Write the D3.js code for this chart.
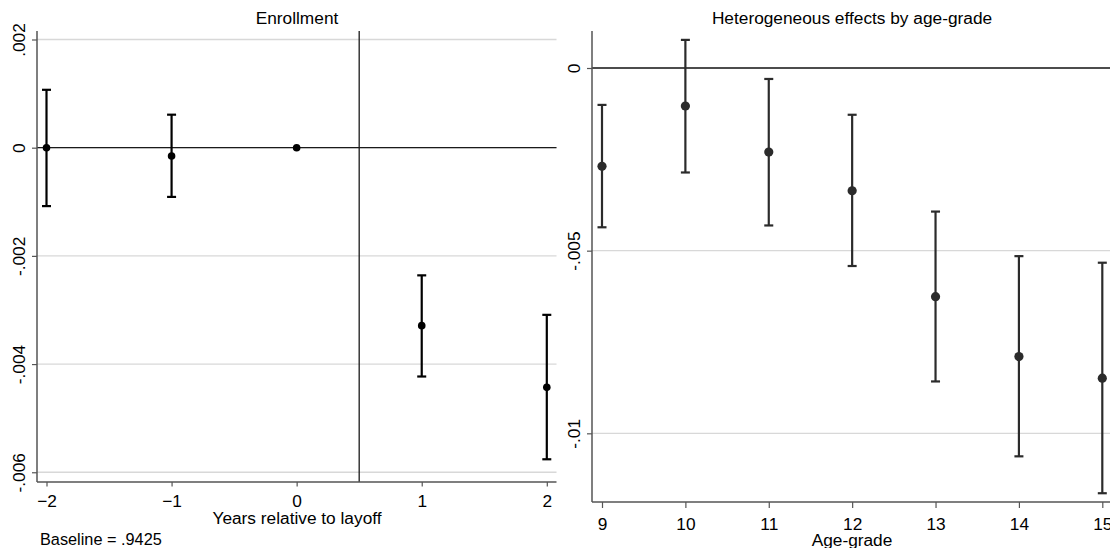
<!DOCTYPE html>
<html>
<head>
<meta charset="utf-8">
<script src="https://cdn.jsdelivr.net/npm/d3@7"></script>
<style>
  html, body { margin: 0; padding: 0; background: #fff; }
  svg text { font-family: "Liberation Sans", Arial, sans-serif; fill: #000; }
</style>
</head>
<body>
<svg id="chart" width="1110" height="548"></svg>
<script>
// left panel: event study on enrollment
const yearsRel = [-2, -1, 0, 1, 2];
const enrollCoef = [0, -0.000155, 0, -0.00329, -0.00443];
const enrollLo = [-0.00108, -0.00091, null, -0.00423, -0.00576];
const enrollHi = [0.00107, 0.00061, null, -0.00236, -0.00309];
const enrollYTicks = [0.002, 0, -0.002, -0.004, -0.006];
const enrollYLabels = [".002", "0", "-.002", "-.004", "-.006"];

// right panel: effects by age-grade
const ageGrades = [9, 10, 11, 12, 13, 14, 15];
const ageCoef = [-0.00269, -0.00104, -0.0023, -0.00336, -0.00626, -0.0079, -0.00849];
const ageLo = [-0.00436, -0.00286, -0.00431, -0.00542, -0.00858, -0.01063, -0.01164];
const ageHi = [-0.00101, 0.00077, -0.0003, -0.00128, -0.00393, -0.00515, -0.00533];
const ageYTicks = [0, -0.005, -0.01];
const ageYLabels = ["0", "-.005", "-.01"];

const svg = d3.select("#chart");

function drawPanel(p) {
  const g = svg.append("g");
  const x = d3.scaleLinear().domain(p.xDomain).range(p.xRange);
  const y = d3.scaleLinear().domain(p.yDomain).range([p.bottom, p.top]);

  // gridlines
  g.selectAll(".grid").data(p.yTicks).join("line")
    .attr("x1", p.left).attr("x2", p.right)
    .attr("y1", d => y(d)).attr("y2", d => y(d))
    .attr("stroke", "#d8d8d8").attr("stroke-width", 1.3);

  // zero line and optional vertical reference line
  g.append("line")
    .attr("x1", p.left).attr("x2", p.right)
    .attr("y1", y(0)).attr("y2", y(0))
    .attr("stroke", "#1a1a1a").attr("stroke-width", 1.3);
  if (p.xLine != null) {
    g.append("line")
      .attr("x1", x(p.xLine)).attr("x2", x(p.xLine))
      .attr("y1", p.top).attr("y2", p.bottom)
      .attr("stroke", "#1a1a1a").attr("stroke-width", 1.3);
  }

  // axes
  const yAxis = d3.axisLeft(y).tickValues(p.yTicks).tickFormat((d, i) => p.yLabels[i])
    .tickSize(5);
  const ya = g.append("g").attr("transform", `translate(${p.left},0)`).call(yAxis);
  ya.select(".domain").attr("d", `M0,${p.top}V${p.bottom}`);
  ya.selectAll(".tick text")
    .attr("x", null).attr("dy", null)
    .attr("text-anchor", "middle")
    .attr("transform", `translate(${p.yLabelX - p.left},0) rotate(-90)`);

  const xAxis = d3.axisBottom(x).tickValues(p.xTicks).tickFormat(d3.format("d"))
    .tickSize(p.xTickLen);
  const xa = g.append("g").attr("transform", `translate(0,${p.bottom})`).call(xAxis);
  xa.select(".domain").attr("d", `M${p.left},0H${p.right}`);
  xa.selectAll(".tick text").attr("dy", null).attr("y", p.xLabelY - p.bottom);

  [ya, xa].forEach(a => {
    a.selectAll(".domain").attr("stroke", "#555").attr("stroke-width", 1.5);
    a.selectAll(".tick line").attr("stroke", "#555").attr("stroke-width", 1.2);
    a.selectAll(".tick text").attr("fill", "#000")
      .style("font-size", "17.3px")
      .style("font-family", '"Liberation Sans", Arial, sans-serif');
  });

  // error bars
  const rows = p.xs.map((v, i) => ({ x: v, c: p.coef[i], lo: p.lo[i], hi: p.hi[i] }));
  const bars = rows.filter(d => d.lo != null);
  const eb = g.append("g").attr("stroke", p.color).attr("stroke-width", 2.2);
  eb.selectAll(".v").data(bars).join("line")
    .attr("x1", d => x(d.x)).attr("x2", d => x(d.x))
    .attr("y1", d => y(d.lo)).attr("y2", d => y(d.hi));
  eb.selectAll(".capLo").data(bars).join("line")
    .attr("x1", d => x(d.x) - p.cap).attr("x2", d => x(d.x) + p.cap)
    .attr("y1", d => y(d.lo)).attr("y2", d => y(d.lo));
  eb.selectAll(".capHi").data(bars).join("line")
    .attr("x1", d => x(d.x) - p.cap).attr("x2", d => x(d.x) + p.cap)
    .attr("y1", d => y(d.hi)).attr("y2", d => y(d.hi));

  // points
  g.selectAll(".pt").data(rows).join("circle")
    .attr("cx", d => x(d.x)).attr("cy", d => y(d.c))
    .attr("r", p.r).attr("fill", p.color);

  // titles
  g.append("text").attr("x", p.titleX).attr("y", 24).attr("text-anchor", "middle")
    .style("font-size", "17.3px").text(p.title);
  g.append("text").attr("x", p.titleX).attr("y", p.xTitleY).attr("text-anchor", "middle")
    .style("font-size", "17.3px").text(p.xTitle);
}

drawPanel({
  xs: yearsRel, coef: enrollCoef, lo: enrollLo, hi: enrollHi,
  xDomain: [-2, 2], xRange: [46.5, 546.8], xTicks: yearsRel, xTickLen: 4.5,
  yDomain: [-0.00618, 0.002157], top: 31, bottom: 482,
  yTicks: enrollYTicks, yLabels: enrollYLabels,
  left: 37, right: 556.5, xLine: 0.5,
  color: "#000", r: 3.8, cap: 4.5,
  yLabelX: 25, xLabelY: 506.5,
  title: "Enrollment", titleX: 297, xTitle: "Years relative to layoff", xTitleY: 524
});

drawPanel({
  xs: ageGrades, coef: ageCoef, lo: ageLo, hi: ageHi,
  xDomain: [9, 15], xRange: [602, 1102.3], xTicks: ageGrades, xTickLen: 6,
  yDomain: [-0.01188, 0.001013], top: 31, bottom: 502,
  yTicks: ageYTicks, yLabels: ageYLabels,
  left: 592, right: 1112, xLine: null,
  color: "#2b2b2b", r: 4.6, cap: 4.5,
  yLabelX: 580, xLabelY: 529.5,
  title: "Heterogeneous effects by age-grade", titleX: 852, xTitle: "Age-grade", xTitleY: 545.5
});

// note below the left panel
svg.append("text").attr("x", 40).attr("y", 545.3)
  .style("font-size", "16.3px").text("Baseline = .9425");
</script>
</body>
</html>
